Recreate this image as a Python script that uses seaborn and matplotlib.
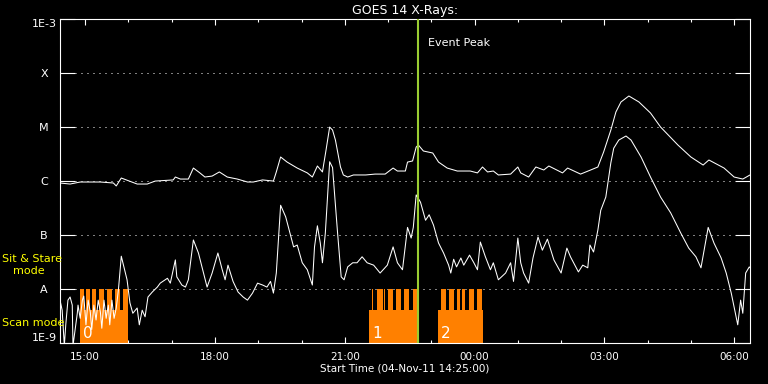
import matplotlib
matplotlib.use("Agg")
import matplotlib.pyplot as plt
import matplotlib.dates as mdates
from matplotlib.ticker import NullLocator
import seaborn as sns
import pandas as pd

# ---------------- data ----------------
TITLE = "GOES 14 X-Rays:"
XLABEL = "Start Time (04-Nov-11 14:25:00)"
START_DATE = "2011-11-04"
X_START = "14:25"
X_END = "06:22"
EVENT_PEAK = "22:42"
EVENT_TEXT = "Event Peak"

long_times = ["14:25", "14:39", "14:53", "15:21", "15:39", "15:43", "15:50", "15:57", "16:12", "16:26",
              "16:37", "17:02", "17:05", "17:12", "17:23", "17:30", "17:39", "17:46", "17:56", "18:06",
              "18:17", "18:31", "18:45", "18:53", "19:06", "19:21", "19:25", "19:31", "19:40", "19:54",
              "20:08", "20:15", "20:22", "20:29", "20:34", "20:39", "20:43", "20:47", "20:54", "20:58",
              "21:04", "21:12", "21:29", "21:42", "21:56", "22:07", "22:13", "22:24", "22:27", "22:34",
              "22:39", "22:42", "22:49", "23:02", "23:10", "23:22", "23:36", "23:54", "00:04", "00:11",
              "00:18", "00:26", "00:33", "00:50", "01:00", "01:04", "01:15", "01:25", "01:36", "01:43",
              "02:02", "02:09", "02:27", "02:41", "02:51", "02:59", "03:09", "03:16", "03:23", "03:34",
              "03:48", "04:04", "04:18", "04:42", "05:00", "05:17", "05:25", "05:46", "06:00", "06:12",
              "06:22"]
long_flux = [9.3e-7, 8.9e-7, 9.7e-7, 9.7e-7, 9.3e-7, 8.2e-7, 1.15e-6, 1.06e-6, 8.9e-7, 8.9e-7,
             1.01e-6, 1.06e-6, 1.20e-6, 1.10e-6, 1.10e-6, 1.76e-6, 1.43e-6, 1.20e-6, 1.25e-6, 1.49e-6,
             1.20e-6, 1.10e-6, 9.7e-7, 9.7e-7, 1.06e-6, 1.01e-6, 1.49e-6, 2.82e-6, 2.27e-6, 1.76e-6,
             1.43e-6, 1.20e-6, 1.92e-6, 1.49e-6, 3.80e-6, 1.01e-5, 8.9e-6, 5.8e-6, 1.84e-6, 1.31e-6,
             1.20e-6, 1.31e-6, 1.31e-6, 1.36e-6, 1.36e-6, 1.76e-6, 1.55e-6, 1.55e-6, 2.27e-6, 2.38e-6,
             4.3e-6, 4.7e-6, 3.64e-6, 3.34e-6, 2.27e-6, 1.76e-6, 1.55e-6, 1.55e-6, 1.43e-6, 1.84e-6,
             1.49e-6, 1.55e-6, 1.31e-6, 1.36e-6, 1.84e-6, 1.43e-6, 1.20e-6, 1.84e-6, 1.62e-6, 1.92e-6,
             1.43e-6, 1.76e-6, 1.36e-6, 1.62e-6, 1.84e-6, 3.49e-6, 8.9e-6, 1.92e-5, 2.94e-5, 3.80e-5,
             2.94e-5, 1.84e-5, 1.01e-5, 4.7e-6, 2.82e-6, 2.0e-6, 2.48e-6, 1.76e-6, 1.20e-6, 1.10e-6,
             1.31e-6]

short_times = ["14:25", "14:28", "14:31", "14:33", "14:36", "14:39", "14:42", "14:43", "14:46", "14:49",
               "14:50", "14:53", "14:56", "14:58", "15:01", "15:04", "15:07", "15:09", "15:12", "15:15",
               "15:18", "15:21", "15:23", "15:26", "15:29", "15:32", "15:34", "15:37", "15:40", "15:43",
               "15:46", "15:50", "15:54", "15:58", "16:02", "16:06", "16:12", "16:15", "16:19", "16:23",
               "16:27", "16:33", "16:40", "16:44", "16:54", "16:58", "17:05", "17:07", "17:14", "17:19",
               "17:23", "17:30", "17:37", "17:44", "17:49", "17:56", "18:04", "18:10", "18:14", "18:18",
               "18:25", "18:32", "18:39", "18:45", "18:52", "18:59", "19:06", "19:12", "19:17", "19:21",
               "19:25", "19:31", "19:38", "19:44", "19:49", "19:54", "20:01", "20:08", "20:15", "20:18",
               "20:22", "20:26", "20:29", "20:33", "20:39", "20:43", "20:50", "20:55", "20:59", "21:04",
               "21:11", "21:17", "21:24", "21:31", "21:40", "21:49", "21:59", "22:07", "22:13", "22:20",
               "22:27", "22:32", "22:35", "22:39", "22:45", "22:52", "22:57", "23:03", "23:10", "23:17",
               "23:24", "23:27", "23:31", "23:35", "23:41", "23:45", "23:53", "23:59", "00:04", "00:08",
               "00:15", "00:22", "00:26", "00:33", "00:43", "00:50", "00:54", "01:00", "01:04", "01:08",
               "01:15", "01:21", "01:28", "01:34", "01:41", "01:50", "02:00", "02:08", "02:13", "02:24",
               "02:30", "02:37", "02:40", "02:45", "02:51", "02:55", "03:02", "03:09", "03:13", "03:20",
               "03:30", "03:37", "03:51", "04:04", "04:18", "04:32", "04:46", "04:57", "05:07", "05:14",
               "05:24", "05:32", "05:42", "05:49", "05:56", "06:00", "06:05", "06:09", "06:12", "06:16",
               "06:21", "06:22"]
short_flux = [6.3e-9, 4.1e-9, 9.0e-10, 2.2e-9, 6.3e-9, 7.2e-9, 5.1e-9, 9.0e-10, 1.8e-9, 3.6e-9,
              5.1e-9, 2.9e-9, 6.3e-9, 7.5e-9, 2.2e-9, 6.3e-9, 3.8e-9, 1.8e-9, 5.1e-9, 2.7e-9,
              6.3e-9, 3.8e-9, 1.9e-9, 6.3e-9, 2.9e-9, 5.1e-9, 2.2e-9, 6.3e-9, 2.9e-9, 4.5e-9,
              9.7e-9, 4.1e-8, 2.5e-8, 1.5e-8, 5.6e-9, 3.6e-9, 4.5e-9, 2.2e-9, 4.1e-9, 3.1e-9,
              7.2e-9, 8.9e-9, 1.1e-8, 1.3e-8, 1.6e-8, 1.3e-8, 3.5e-8, 1.7e-8, 1.2e-8, 1.1e-8,
              1.5e-8, 8.2e-8, 4.7e-8, 2.0e-8, 1.1e-8, 2.0e-8, 4.7e-8, 2.3e-8, 1.5e-8, 2.8e-8,
              1.4e-8, 8.9e-9, 7.2e-9, 6.3e-9, 8.5e-9, 1.3e-8, 1.2e-8, 1.1e-8, 1.4e-8, 8.5e-9,
              2.0e-8, 3.6e-7, 2.2e-7, 1.1e-7, 6.1e-8, 6.6e-8, 3.1e-8, 2.3e-8, 1.2e-8, 6.1e-8,
              1.5e-7, 7.2e-8, 3.1e-8, 1.1e-7, 2.3e-6, 1.8e-6, 1.1e-7, 1.7e-8, 1.5e-8, 2.6e-8,
              3.1e-8, 3.1e-8, 4.0e-8, 3.1e-8, 2.8e-8, 2.0e-8, 2.8e-8, 6.1e-8, 3.1e-8, 2.3e-8,
              1.4e-7, 8.9e-8, 1.4e-7, 5.6e-7, 4.1e-7, 1.9e-7, 2.4e-7, 1.55e-7, 7.2e-8, 4.7e-8,
              2.8e-8, 2.0e-8, 3.6e-8, 2.6e-8, 3.8e-8, 2.8e-8, 4.3e-8, 3.1e-8, 2.3e-8, 7.5e-8,
              4.0e-8, 2.3e-8, 3.1e-8, 1.5e-8, 2.0e-8, 3.1e-8, 1.4e-8, 8.9e-8, 3.1e-8, 2.0e-8,
              1.3e-8, 3.8e-8, 9.3e-8, 5.3e-8, 8.5e-8, 3.5e-8, 2.0e-8, 5.8e-8, 4.0e-8, 2.1e-8,
              2.8e-8, 2.5e-8, 6.6e-8, 4.9e-8, 1.25e-7, 2.9e-7, 5.1e-7, 2.2e-6, 4.1e-6, 5.8e-6,
              6.9e-6, 5.8e-6, 2.8e-6, 1.2e-6, 5.1e-7, 2.6e-7, 1.1e-7, 5.8e-8, 4.0e-8, 2.5e-8,
              1.4e-7, 7.2e-8, 3.8e-8, 2.0e-8, 8.5e-9, 4.7e-9, 2.2e-9, 6.3e-9, 3.6e-9, 2.0e-8,
              2.6e-8, 2.5e-8]

# observing-mode blocks (scan mode) and sit & stare bars
scan_start = ["14:53", "21:34", "23:09"]
scan_end = ["15:59", "22:42", "00:11"]
scan_labels = ["0", "1", "2"]
scan_level = 4.1e-9
stare_level = 1.0e-8
stare_start = ["14:53", "15:01", "15:09", "15:19", "15:30", "15:41", "15:52",
               "21:38", "21:45", "21:55", "22:00", "22:11", "22:22", "22:34",
               "23:14", "23:25", "23:36", "23:42", "23:52", "00:03"]
stare_end = ["14:58", "15:07", "15:15", "15:26", "15:37", "15:48", "15:59",
             "21:39", "21:53", "21:56", "22:07", "22:18", "22:29", "22:41",
             "23:21", "23:32", "23:40", "23:47", "23:59", "00:10"]

ytick_values = [1e-9, 1e-8, 1e-7, 1e-6, 1e-5, 1e-4, 1e-3]
ytick_labels = ["1E-9", "A", "B", "C", "M", "X", "1E-3"]
grid_levels = [1e-8, 1e-7, 1e-6, 1e-5, 1e-4]

assert len(long_times) == len(long_flux)
assert len(short_times) == len(short_flux)
assert len(stare_start) == len(stare_end)

BASE = pd.Timestamp(START_DATE)


def stamp(s):
    h, m = int(s[:2]), int(s[3:])
    day = 1 if h < 12 else 0
    return BASE + pd.Timedelta(days=day, hours=h, minutes=m)


df_long = pd.DataFrame({"time": [stamp(t) for t in long_times], "flux": long_flux})
df_short = pd.DataFrame({"time": [stamp(t) for t in short_times], "flux": short_flux})

# ---------------- style ----------------
sns.set_theme(style="dark", rc={
    "figure.facecolor": "black", "axes.facecolor": "black",
    "axes.edgecolor": "white", "text.color": "white",
    "xtick.color": "white", "ytick.color": "white",
    "axes.labelcolor": "white", "axes.grid": False,
})
plt.rcParams["font.family"] = ["DejaVu Sans"]

W, H = 768, 384
fig = plt.figure(figsize=(W / 100, H / 100), dpi=100, facecolor="black")
ax = fig.add_axes([60 / W, (H - 343.3) / H, 690 / W, 324 / H])
ax.set_facecolor("black")

ax.set_yscale("log")
ax.set_ylim(1e-9, 1e-3)
ax.set_xlim(stamp(X_START), stamp(X_END))

# dotted level lines
for lv in grid_levels:
    ax.axhline(lv, xmin=15 / 690, xmax=675 / 690, color="white", lw=0.72,
               ls=(0, (1, 5)), zorder=1)

orange = "#ff8000"
for s, e in zip(scan_start, scan_end):
    ax.fill_between([stamp(s), stamp(e)], [1e-9, 1e-9], [scan_level, scan_level],
                    color=orange, lw=0, zorder=2, antialiased=False)
for s, e in zip(stare_start, stare_end):
    ax.fill_between([stamp(s), stamp(e)], [scan_level, scan_level], [stare_level, stare_level],
                    color=orange, lw=0, zorder=2, antialiased=False)
for s, lab in zip(scan_start, scan_labels):
    ax.annotate(lab, xy=(stamp(s), 1.55e-9), xytext=(2, 0), textcoords="offset points",
                ha="left", va="center", color="white", fontsize=11, zorder=5)

sns.lineplot(data=df_long, x="time", y="flux", color="white", lw=0.75, ax=ax, zorder=3)
sns.lineplot(data=df_short, x="time", y="flux", color="white", lw=0.75, ax=ax, zorder=3)

ax.axvline(stamp(EVENT_PEAK), color="#9acd32", lw=1.5, zorder=4)
fig.text(428 / W, 1 - 43 / H, EVENT_TEXT, ha="left", va="center", color="white", fontsize=8)

# y axis
ax.set_yticks(ytick_values)
ax.set_yticklabels(ytick_labels)
ax.yaxis.set_minor_locator(NullLocator())
ax.tick_params(axis="y", which="major", direction="in", length=10.8, width=0.8,
               left=True, right=True, labelsize=8, pad=11.5, colors="white")
ylabs = ax.get_yticklabels()
for lab in ylabs:
    lab.set_ha("center")
ylabs[0].set_va("bottom")
ylabs[-1].set_va("top")
ax.set_ylabel("")

# x axis
ax.xaxis.set_major_locator(mdates.HourLocator(byhour=range(0, 24, 3)))
ax.xaxis.set_minor_locator(mdates.HourLocator())
ax.xaxis.set_major_formatter(mdates.DateFormatter("%H:%M"))
ax.tick_params(axis="x", which="major", direction="in", length=4.3, width=0.8,
               top=True, bottom=True, labelsize=7.5, pad=6, colors="white")
ax.tick_params(axis="x", which="minor", direction="in", length=2.2, width=0.8,
               top=True, bottom=True, colors="white")
ax.set_xlabel(XLABEL, fontsize=7.5, labelpad=1.5, color="white")

for sp in ax.spines.values():
    sp.set_color("white")
    sp.set_linewidth(0.8)

ax.set_title(TITLE, fontsize=9, color="white", pad=4)

yellow = "#ffff00"
fig.text(2 / W, 1 - 259 / H, "Sit & Stare", ha="left", va="center", color=yellow, fontsize=8)
fig.text(13 / W, 1 - 271 / H, "mode", ha="left", va="center", color=yellow, fontsize=8)
fig.text(2 / W, 1 - 323.5 / H, "Scan mode", ha="left", va="center", color=yellow, fontsize=8)

fig.savefig("out.png", dpi=100, facecolor="black")
